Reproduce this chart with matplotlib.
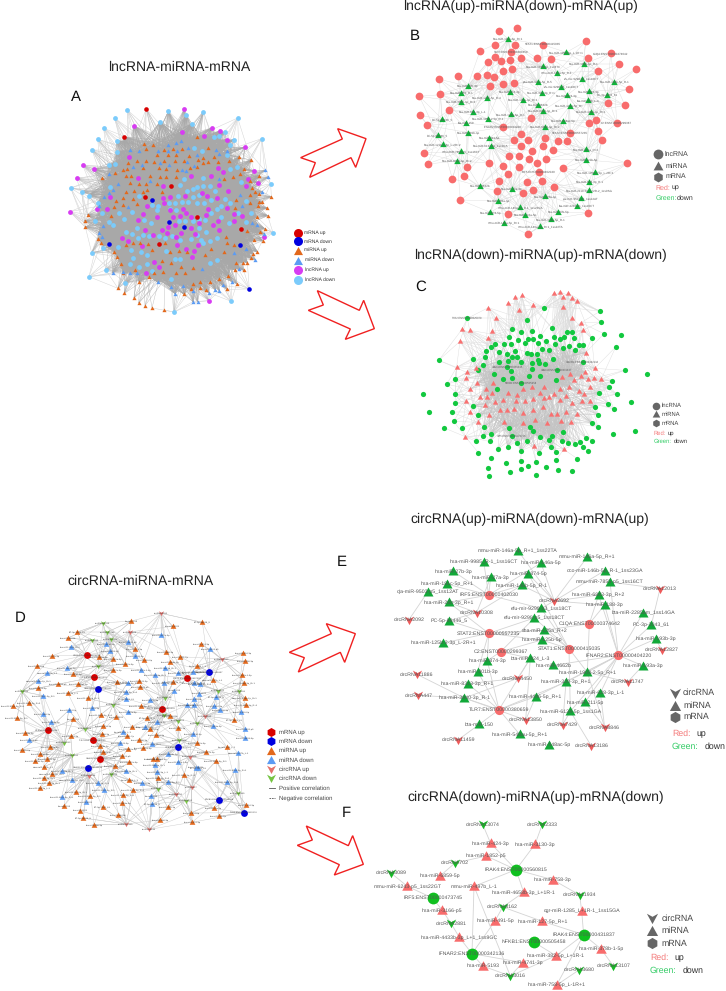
import numpy as np
import matplotlib
matplotlib.use("Agg")
import matplotlib.pyplot as plt
from matplotlib.collections import LineCollection
from matplotlib.path import Path
from matplotlib.patches import Polygon

plt.rcParams['font.family'] = ['Liberation Sans', 'DejaVu Sans']
plt.rcParams['text.hinting'] = 'none'
W, H = 726, 991

# ---------- Panel A nodes ----------
A_lnc_down = [(202,90),(325,94),(430,95),(379,106),(533,114),(164,115),(300,126),(396,131),(131,145),(496,155),(605,176),(521,179),(113,178),(171,182),(461,170),(478,168),(96,210),(510,195),(171,216),(425,212),(403,203),(147,255),(165,253),(502,224),(632,311),(32,324),(66,336),(86,347),(114,368),(149,322),(639,458),(95,518),(128,505),(137,569),(87,590),(196,608),(514,664),(342,696),(530,262),(511,268),(372,296),(430,294),(542,305),(557,362),(574,398),(535,400),(559,425),(359,315),(380,333),(398,327),(412,320),(429,318),(449,319),(466,334),(355,348),(399,351),(416,344),(494,356),(452,360),(511,368),(483,377),(470,386),(431,370),(412,369),(385,366),(367,366),(346,368),(328,368),(238,349),(275,375),(295,378),(291,390),(329,388),(347,390),(454,400),(483,410),(435,420),(418,418),(398,423),(375,422),(358,424),(506,428),(253,421),(273,428),(231,445),(217,463),(197,456),(178,400),(215,395),(191,416),(160,436),(148,425),(127,398),(105,424),(233,473),(248,466),(267,468),(296,469),(316,473),(336,467),(360,480),(392,477),(410,465),(424,480),(430,490),(450,482),(471,475),(439,455),(416,445),(175,500),(212,510),(243,516),(262,526),(218,535),(211,552),(260,552),(238,560),(275,573),(318,513),(346,537),(360,536),(449,548),(470,540),(334,597)]
A_lnc_up = [(373,87),(222,138),(366,155),(457,143),(480,153),(431,167),(501,179),(555,202),(207,231),(68,256),(102,267),(50,295),(474,264),(489,277),(582,273),(563,296),(593,309),(558,318),(234,293),(394,288),(453,288),(310,318),(477,316),(505,334),(330,351),(375,348),(426,339),(441,347),(470,354),(310,355),(311,370),(260,377),(150,352),(110,387),(140,386),(30,395),(330,389),(369,387),(378,398),(500,384),(444,386),(522,402),(546,407),(522,424),(248,403),(290,410),(339,411),(360,407),(394,412),(438,405),(233,419),(345,435),(473,422),(458,436),(476,449),(256,449),(305,450),(323,442),(417,430),(392,443),(280,464),(322,460),(363,459),(404,461),(349,471),(185,473),(203,483),(245,497),(350,495),(415,496),(379,507),(402,513),(397,531),(281,545),(296,562),(257,578),(612,470),(447,662)]
A_mrna_up = [(259,86),(192,171),(334,317),(256,352),(410,411),(543,446),(297,492)]
A_mrna_down = [(276,360),(328,425),(372,441),(147,491),(541,495),(568,627)]
A_mir_up = [(253,192),(280,195),(410,170),(259,208),(311,209),(340,206),(366,207),(443,204),(292,225),(324,225),(349,225),(388,228),(230,242),(203,249),(258,243),(282,245),(312,243),(344,244),(372,244),(414,240),(430,234),(463,231),(537,231),(573,240),(506,242),(201,266),(165,279),(125,295),(190,270),(250,265),(298,265),(318,267),(350,270),(389,264),(430,250),(445,247),(411,262),(473,247),(551,267),(540,283),(519,290),(492,296),(598,287),(197,287),(213,288),(270,288),(300,292),(319,290),(348,292),(209,310),(236,312),(257,312),(290,312),(575,323),(570,304),(197,337),(222,333),(250,335),(261,330),(307,336),(188,355),(218,358),(584,335),(597,343),(634,350),(570,345),(527,360),(570,370),(597,366),(188,375),(232,372),(168,364),(163,382),(607,367),(620,384),(594,378),(526,385),(83,404),(152,407),(623,407),(590,410),(74,422),(76,441),(560,452),(614,446),(600,455),(498,470),(582,480),(608,482),(113,478),(123,489),(500,489),(522,494),(163,517),(170,530),(592,515),(580,521),(572,533),(548,548),(562,548),(528,548),(183,551),(241,490),(219,490),(265,492),(314,488),(358,513),(382,516),(436,524),(454,508),(491,515),(197,495),(275,510),(330,517),(525,570),(551,571),(225,570),(190,580),(174,625),(193,640),(222,654),(236,669),(255,677),(276,684),(312,690),(238,605),(268,591),(282,580),(308,577),(348,578),(375,579),(398,563),(332,548),(305,542),(362,560),(504,587),(478,596),(450,606),(420,605),(400,612),(373,643),(394,628),(420,623),(437,630),(530,611),(501,628)]
A_mir_down = [(362,183),(347,188),(323,196),(384,203),(210,211),(238,213),(295,212),(325,212),(468,210),(352,212),(412,226),(476,223),(500,212),(247,255),(218,262),(328,256),(300,250),(380,247),(402,257),(366,270),(378,274),(146,281),(614,271),(624,291),(605,335),(478,297),(270,302),(175,311),(160,330),(146,340),(133,352),(540,346),(205,382),(545,379),(118,378),(128,437),(116,458),(125,470),(592,436),(577,430),(612,461),(586,539),(158,578),(188,576),(210,580),(230,578),(536,568),(516,605),(488,616),(478,632),(466,629),(446,638),(400,632),(345,641),(332,620),(370,617),(293,607),(426,566),(413,665),(399,665),(558,508),(522,520)]

# ---------- Panel B ----------
B_other = [(380,85),(326,92),(587,124),(316,135),(375,135),(270,153),(595,173),(687,192),(737,208),(293,187),(314,172),(334,183),(361,180),(393,174),(440,175),(484,176),(624,213),(338,212),(366,207),(204,229),(261,228),(290,225),(313,232),(148,238),(338,253),(371,250),(300,257),(716,267),(88,289),(150,282),(705,316),(655,310),(178,329),(89,346),(422,355),(618,359),(111,376),(596,369),(625,394),(636,420),(394,403),(371,421),(415,420),(465,414),(393,437),(459,437),(427,452),(504,424),(531,422),(490,450),(101,459),(113,492),(358,469),(387,468),(418,476),(467,478),(440,489),(297,489),(339,497),(386,500),(232,500),(221,527),(187,536),(354,522),(518,505),(712,490),(326,543),(411,546),(456,543),(493,560),(322,573),(399,578),(428,571),(211,600),(354,643),(595,639),(414,703)]
B_mrna = [(458,134),(364,157),(662,160),(339,381),(680,369),(541,400),(447,516)]
B_mrna_labels = ["STAT1:ENST00000415035","TLR7:ENST00000380659","C1QA:ENST00000374642","IFNAR2:ENST00000404220","C2:ENST00000299367","STAT2:ENST00000557235","IRF5:ENST00000402030"]
B_mir = [(355,117),(529,157),(581,192),(459,199),(500,219),(575,237),(444,245),(673,245),(233,258),(513,261),(359,276),(455,278),(214,279),(597,274),(531,286),(651,285),(290,294),(213,306),(399,299),(593,301),(443,315),(539,318),(248,335),(362,343),(460,333),(604,335),(293,357),(157,358),(518,362),(228,369),(466,381),(235,398),(143,406),(298,414),(158,433),(303,438),(213,454),(202,483),(589,448),(589,480),(616,517),(598,545),(598,571),(269,559),(366,566),(466,589),(572,595),(325,603),(561,618),(391,622),(301,637),(406,645),(505,636),(483,658),(343,669),(451,679)]
B_mir_labels = ["hsa-miR-181c-5p_R+1","hsa-miR-1908-5p_L-1R+1","hsa-miR-193b-3p_R-1","hsa-miR-106b-5p_1ss8TC","mmu-miR-146a-5p_R-1","efu-mir-9298-p3_1ss18CT","pza-miR-125a-5p_R-5","hsa-miR-146b-5p_R-1","hsa-miR-27b-3p","efu-mir-9298-p5_1ss18CT","hsa-miR-874-3p","hsa-miR-320-3p_R+1","hsa-miR-150_R-1","hsa-miR-188-3p","hsa-miR-874-3p","PC-3p-2043_61","hsa-miR-125b-5p_R-4","hsa-miR-3940-3p_R+1","hsa-miR-193a-3p_R+1","bta-miR-424_L-3","hsa-miR-4662b","hsa-miR-146a-5p_R+","hsa-miR-628-3p_L-1","hsa-miR-125b-5p_R-1","hsa-miR-8313-3p_R+1","hsa-miR-193a-3p_R+1","hsa-miR-1908-2-5p_R-1","PC-5p-89446_5","hsa-miR-548ac-5p","bta-miR-150","hsa-miR-6883-3p_R+2","hsa-miR-301b-3p","PC-5p-89446_5","hsa-miR-211-5p","hsa-miR-125b-2-3p_L-2R+2","hsa-miR-6134-5p_1ss1GA","mmu-miR-7855-p5_1ss16CT","hsa-miR-8313-3p_R+2","sha-miR-125a_R+2","hsa-miR-125b-5p","hsa-miR-1908-2-5p_L-2R+1","hsa-miR-628-3p_R-1","hsa-miR-2110-5p_L+2R-2_1ss9AG","hsa-miR-4662b","hsa-miR-27a-3p","hsa-miR-193a-3p","oja-miR-9503-p5_1ss12AT","hsa-miR-193a-3p","bta-miR-2285am_1ss16CT","mmu-miR-146a-5p_R-1_1ss23GA","hsa-miR-874-5p","hsa-miR-146a-5p","hsa-miR-27b-5p","hsa-miR-146a-5p_R-1","mmu-miR-146a-5p_R+1","mmu-miR-146a-5p_R+1_1ss22TA"]

# ---------- Panel C ----------
C_mir = [(375,170),(395,166),(354,189),(295,203),(492,160),(510,155),(518,170),(535,160),(545,173),(560,183),(429,196),(388,211),(520,200),(317,235),(547,234),(573,248),(216,268),(239,271),(306,273),(578,271),(295,294),(210,304),(587,338),(200,382),(258,384),(614,385),(230,397),(228,415),(516,410),(540,402),(572,408),(585,397),(594,416),(612,415),(634,417),(552,420),(260,430),(308,428),(288,448),(240,447),(425,442),(400,447),(462,441),(510,447),(537,440),(566,452),(600,440),(582,463),(270,470),(290,470),(306,458),(450,458),(492,463),(477,470),(355,458),(380,465),(340,480),(316,485),(228,482),(286,495),(378,483),(406,483),(430,477),(462,475),(510,480),(527,467),(546,490),(575,483),(600,484),(240,517),(298,525),(330,510),(351,510),(372,507),(400,520),(430,510),(458,500),(482,521),(502,521),(528,515),(561,523),(264,547),(342,547),(398,548),(436,540),(470,548),(512,543),(544,547),(226,590),(431,617),(521,628)]
C_other = [(463,204),(630,214),(411,241),(632,246),(486,264),(365,267),(394,277),(426,274),(547,277),(642,281),(694,285),(358,291),(451,289),(493,291),(521,292),(509,297),(551,294),(531,275),(605,295),(384,300),(415,297),(428,296),(315,311),(302,320),(343,313),(362,312),(404,308),(445,310),(468,304),(495,312),(567,314),(580,316),(288,332),(327,337),(375,332),(520,323),(538,318),(456,326),(476,330),(677,321),(286,352),(351,342),(381,351),(366,352),(410,338),(424,342),(440,341),(554,331),(146,361),(250,357),(326,365),(354,363),(394,365),(445,360),(490,358),(278,376),(427,370),(447,370),(464,371),(426,388),(265,391),(312,401),(704,391),(772,401),(363,393),(418,408),(450,407),(338,417),(365,414),(498,421),(195,418),(170,433),(667,424),(320,448),(628,458),(98,462),(195,462),(656,441),(680,462),(724,487),(195,490),(250,497),(654,491),(615,500),(672,507),(117,516),(186,517),(263,524),(625,524),(191,544),(605,549),(625,562),(163,564),(217,564),(281,561),(356,563),(419,561),(430,573),(520,577),(668,583),(734,573),(279,587),(450,592),(487,587),(303,583),(380,608),(258,604),(299,604),(412,603),(478,600),(517,604),(535,608),(570,606),(587,593),(605,604),(555,612),(580,620),(593,634),(265,638),(323,628),(353,620),(392,632),(483,622),(497,636),(447,640),(303,655),(392,664),(562,656),(347,668),(438,665),(498,661),(415,678),(293,683),(394,686),(361,695),(469,682),(505,690),(545,694),(439,704),(297,708)]
C_mrna = [(232,235),(351,382),(500,390),(578,367),(394,430),(365,588)]
C_mrna_labels = ["TYR2:ENST00000525070","IRAK4:ENST00000560815","IRAK4:ENST00000431837","IFNAR2:ENST00000342136","NFKB1:ENST00000505458","IRF5:ENST00000473745"]

# ---------- Panel D ----------
D_mrna_up = [(260,165),(283,231),(562,234),(485,326),(143,391),(278,421),(301,476)]
D_mrna_down = [(628,216),(294,266),(533,442),(264,503),(657,599),(731,638)]
D_circ_up = [(483,40),(389,96),(665,177),(616,348),(569,470),(266,527),(575,562),(528,582),(378,672),(448,688)]
D_circ_down = [(309,69),(322,96),(332,117),(277,121),(295,198),(66,274),(495,293),(655,272),(716,273),(340,314),(493,345),(534,362),(590,370),(255,386),(192,428),(217,466),(538,420),(333,522),(473,566),(558,602),(713,579)]
D_mir_up = [(394,63),(518,79),(607,67),(232,96),(203,114),(155,168),(110,198),(404,147),(497,155),(604,131),(540,170),(730,160),(735,184),(432,181),(340,176),(510,186),(375,193),(592,197),(297,172),(340,209),(220,221),(173,253),(115,264),(420,260),(416,243),(352,246),(235,253),(638,240),(727,226),(733,248),(520,246),(204,280),(264,295),(734,293),(738,315),(423,318),(87,310),(40,319),(51,355),(302,344),(220,358),(348,351),(441,355),(703,359),(510,349),(533,384),(396,380),(310,379),(305,403),(212,409),(380,409),(469,404),(417,421),(66,449),(150,441),(300,437),(592,430),(680,440),(76,399),(617,456),(120,463),(308,455),(430,443),(365,467),(140,477),(344,497),(105,482),(131,500),(470,477),(132,534),(148,548),(120,563),(228,575),(155,523),(552,524),(648,483),(474,535),(400,569),(270,588),(368,586),(192,618),(240,632),(250,654),(308,622),(355,645),(503,622),(573,639),(641,625),(480,660),(576,667),(656,649),(738,615),(282,675),(450,388),(383,447),(458,477),(388,487),(388,540),(365,610)]
D_mir_down = [(484,105),(319,133),(385,125),(330,153),(629,147),(404,167),(212,141),(200,205),(142,219),(423,209),(495,205),(465,226),(535,218),(580,216),(115,242),(492,248),(383,248),(601,252),(582,250),(130,287),(378,276),(522,272),(598,281),(649,292),(378,296),(581,298),(451,300),(206,331),(275,325),(128,341),(560,316),(582,316),(642,318),(660,330),(723,335),(385,335),(153,367),(470,367),(368,395),(640,377),(436,382),(578,403),(735,388),(735,415),(87,420),(360,429),(455,431),(505,463),(715,460),(535,485),(464,495),(379,513),(472,515),(187,512),(216,540),(295,548),(505,545),(682,546),(706,510),(311,570),(185,590),(454,588),(257,606),(457,612),(595,503),(587,503),(427,550)]
D_mrna_labels = ["C1QA:ENST00000374642","IRF5:ENST00000402030","STAT2:ENST00000557235","STAT1:ENST00000415035","C2:ENST00000299367","TLR7:ENST00000380659","IFNAR2:ENST00000404220","IRAK4:ENST00000431837","IRAK4:ENST00000560815","IRF5:ENST00000473745","IFNAR2:ENST00000342136","NFKB1:ENST00000505458","TYR2:ENST00000525070"]
D_circ_labels = ["circRNA2092","circRNA7429","circRNA12013","circRNA2692","circRNA10308","circRNA11886","circRNA447","circRNA4450","circRNA13850","circRNA8846","circRNA11459","circRNA13186","circRNA13074","circRNA2333","circRNA702","circRNA3089","circRNA11934","circRNA8162","circRNA2881","circRNA13107","circRNA3680","circRNA3016"]

# ---------- Panel E ----------
E_mir = [(354,122),(562,141),(251,155),(423,159),(160,184),(385,192),(272,202),(614,182),(140,222),(365,226),(630,216),(83,246),(596,255),(146,277),(614,285),(423,295),(729,309),(403,324),(146,332),(754,345),(433,361),(767,387),(425,390),(129,399),(391,445),(262,452),(460,466),(728,467),(233,485),(562,487),(203,521),(498,516),(601,549),(193,564),(407,560),(555,577),(511,604),(238,643),(359,673),(448,705)]
E_mir_labels = ["mmu-miR-146a-5p_R+1_1ss22TA","mmu-miR-146a-5p_R+1","hsa-miR-9985_R-1_1ss16CT","hsa-miR-146a-5p","hsa-miR-27b-3p","hsa-miR-874-5p","hsa-miR-27a-3p","oco-miR-146b-5p_R-1_1ss23GA","hsa-miR-181c-5p_R+1","hsa-miR-146b-5p_R-1","mmu-miR-7855-p5_1ss16CT","oja-miR-9503-p5_1ss12AT","hsa-miR-6883-3p_R+2","hsa-miR-28b-3p_R+1","hsa-miR-188-3p","efu-mir-9298-p3_1ss18CT","bta-miR-2285am_1ss14GA","efu-mir-9298-p5_1ss18CT","PC-5p-89446_5","PC-3p-2043_61","sha-miR-125a_R+2","hsa-miR-193b-3p","hsa-miR-125b-5p","hsa-miR-125b-2-3p_L-2R+1","bta-miR-424_L-3","hsa-miR-874-3p","hsa-miR-4662b","hsa-miR-193a-3p","hsa-miR-301b-3p","hsa-miR-1908-2-5p_R+1","hsa-miR-8313-3p_R+1","hsa-miR-320-3p_R+1","hsa-miR-628-3p_L-1","hsa-miR-3940-3p_R-1","hsa-miR-4446-5p_R+1","hsa-miR-211-5p","hsa-miR-6134-5p_1ss1GA","bta-miR-150","hsa-miR-548au-5p_R+1","hsa-miR-548ac-5p"]
E_circ = [(780,236),(463,273),(230,308),(27,329),(785,419),(353,505),(683,516),(51,493),(55,556),(377,630),(488,644),(614,652),(175,689),(574,708)]
E_circ_labels = ["circRNA12013","circRNA2692","circRNA10308","circRNA2092","circRNA12827","circRNA4450","circRNA11747","circRNA11886","circRNA447","circRNA13850","circRNA7429","circRNA8846","circRNA11459","circRNA13186"]
E_mrna = [(266,255),(266,370),(302,425),(568,341),(507,416),(655,436),(297,599)]
E_mrna_labels = ["IRF5:ENST00000402030","STAT2:ENST00000557235","C2:ENST00000299367","C1QA:ENST00000374642","STAT1:ENST00000415035","IFNAR2:ENST00000404220","TLR7:ENST00000380659"]
E_mrna_links = [[2,4,6,8,13,9,3,15],[13,18,23,17,20,22,25,28],[22,25,17,24],[14,12,20,29],[15,17,22,20,29,36,5],[10,12,14,16,19,21,27,29,31,32,35,36,34,26],[28,30,33,37,38,34,31,24,25]]
E_circ_links = [[10,19],[1,3,5,7,9,0,15,14,12],[13,6,18,9],[11],[21],[24,30,33],[27,29],[33],[33],[34,24,33],[36,31],[32,35,29],[37],[36]]

# ---------- Panel F ----------
F_mir = [(272,190),(405,193),(259,228),(121,287),(458,299),(22,319),(222,319),(371,337),(127,391),(545,393),(285,423),(427,424),(178,472),(603,507),(468,527),(368,548),(248,558),(470,615)]
F_mir_labels = ["hsa-miR-424-3p","hsa-miR-3130-3p","hsa-miR-1852-p5","hsa-miR-6859-5p","hsa-miR-758-3p","mmu-miR-6243-p5_1ss22GT","mmu-miR-497b_L-1","hsa-miR-4658b-3p_L+1R-1","hsa-miR-3166-p5","cgr-miR-1285_L+1R-1_1ss15GA","hsa-miR-491-5p","hsa-miR-127-5p_R+1","hsa-miR-4433b-3p_L+1_1ss9GC","hsa-miR-378b-1-5p","hsa-miR-382-5p_L+1R-1","hsa-miR-4741-3p","hsa-miR-5193","hsa-miR-758-5p_L-1R+1"]
F_circ = [(248,133),(427,133),(165,249),(-27,279),(539,345),(308,381),(153,430),(640,558),(537,570),(331,588)]
F_circ_labels = ["circRNA13074","circRNA2333","circRNA702","circRNA3089","circRNA11934","circRNA8162","circRNA2881","circRNA13107","circRNA3680","circRNA3016"]
F_mrna = [(348,269),(98,354),(551,464),(401,486),(216,521)]
F_mrna_labels = ["IRAK4:ENST00000560815","IRF5:ENST00000473745","IRAK4:ENST00000431837","NFKB1:ENST00000505458","IFNAR2:ENST00000342136"]
F_mrna_links = [[0,1,2,4,6,7],[5,8],[9,11,13,14,17],[14],[10,6,12,16,15]]
F_circ_links = [[0],[1],[3,2],[5],[4,9],[7,11,10],[8,12],[13],[17],[6,16,15,14]]

# ---------- Titles, letters, arrows ----------
titles = [("lncRNA-miRNA-mRNA",179,67),("lncRNA(up)-miRNA(down)-mRNA(up)",520.5,6),("lncRNA(down)-miRNA(up)-mRNA(down)",540,255),("circRNA-miRNA-mRNA",140,581),("circRNA(up)-miRNA(down)-mRNA(up)",530,519),("circRNA(down)-miRNA(up)-mRNA(down)",535.5,797)]
letters = [("A",76,97),("B",415,36),("C",421,287),("D",20,618),("E",342,562),("F",346,813)]
arrow_up_a = [(32,143),(76,158),(59,202),(183,143),(197,172),(228,86),(143,56),(157,87)]
arrow_dn_a = [(55,601),(100,585),(82,542),(208,601),(221,571),(253,656),(166,688),(181,657)]
arrow_up_d = [(28,127),(73,143),(55,186),(181,127),(194,157),(226,71),(139,41),(154,71)]
arrow_dn_d = [(52,706),(97,690),(79,648),(205,707),(218,677),(250,763),(163,795),(178,764)]

V = Path([(-1,0.85),(0,0.3),(1,0.85),(0,-1),(-1,0.85)], closed=True)
TRI = Path([(0,1),(-1,-0.8),(1,-0.8),(0,1)], closed=True)
GREY = '#555555'

fig = plt.figure(figsize=(W/100, H/100), dpi=100, facecolor='white')

def panel(x, y, w, h):
    ax = fig.add_axes([x/W, 1-(y+h)/H, w/W, h/H])
    ax.set_xlim(0, w*3); ax.set_ylim(h*3, 0); ax.axis('off')
    ax.patch.set_alpha(0)
    return ax

def pts(ax, p, marker, color, s, z=3, **kw):
    p = np.array(p, float)
    ax.scatter(p[:,0], p[:,1], marker=marker, c=color, s=s, linewidths=0, zorder=z, clip_on=False, **kw)

def radius_edges(a, b, r, k=0):
    a, b = np.array(a, float), np.array(b, float)
    d = np.hypot(a[:,None,0]-b[None,:,0], a[:,None,1]-b[None,:,1])
    segs = []
    for i in range(len(a)):
        order = np.argsort(d[i])
        for n, j in enumerate(order):
            if d[i,j] < r or n < k:
                segs.append([a[i], b[j]])
    return segs

def near_centre(segs, cx, cy, r):
    return [s for s in segs if np.hypot((s[0][0]+s[1][0])/2-cx, (s[0][1]+s[1][1])/2-cy) < r]

def edges(ax, segs, color, lw, alpha=1.0):
    ax.add_collection(LineCollection(segs, colors=color, linewidths=lw, alpha=alpha, zorder=1, clip_on=False))

def labels(ax, p, names, size, color=GREY):
    for (x, y), t in zip(p, names):
        ax.text(x, y, t, fontsize=size, color=color, ha='center', va='center', zorder=5, clip_on=False)

def linked(src, dst, links):
    return [[src[i], dst[j]] for i, l in enumerate(links) for j in l]

def legend(ax, rows, colors, size, s, tx, texts):
    for (mk, x, y), c in zip(rows, colors):
        ax.scatter([x], [y], marker=mk, c=c, s=s, linewidths=0, zorder=4, clip_on=False)
    for t, x, y in texts:
        ax.text(x, y, t, fontsize=size, color=tx, ha='left', va='center', clip_on=False)

def redgreen(ax, size, xr, xu, yr, xg, xd, yg):
    ax.text(xr, yr, "Red:", color='#f47a7a', fontsize=size, va='center')
    ax.text(xu, yr, "up", color='#333333', fontsize=size, va='center')
    ax.text(xg, yg, "Green:", color='#33cc66', fontsize=size, va='center')
    ax.text(xd, yg, "down", color='#333333', fontsize=size, va='center')

# ---- A
a = panel(60, 80, 300, 290)
others = A_lnc_down + A_lnc_up + A_mrna_up + A_mrna_down
mirs = A_mir_up + A_mir_down
edges(a, radius_edges(others, mirs, 0, 9), '#d4d4d4', 0.35)
edges(a, near_centre(radius_edges(mirs, others, 190), 345, 385, 225), '#a8a8a8', 0.3, 0.8)
pts(a, A_lnc_down, 'o', '#7bcbfb', 12)
pts(a, A_lnc_up, 'o', '#d73cf2', 12)
pts(a, A_mrna_up, 'o', '#d80000', 11)
pts(a, A_mrna_down, 'o', '#0000e0', 11)
pts(a, A_mir_up, TRI, '#e2681c', 9)
pts(a, A_mir_down, TRI, '#5b9bf3', 9)
legend(a, [('o',714,458),('o',714,484),(TRI,714,514),(TRI,714,544),('o',714,570),('o',714,600)],
       ['#d80000','#0000e0','#e2681c','#5b9bf3','#d73cf2','#7bcbfb'], 3.6, 42, '#333333',
       [("mRNA up",733,458),("mRNA down",733,484),("miRNA up",733,510),("miRNA down",735,540),("lncRNA up",735,570),("lncRNA down",735,598)])

# ---- B
b = panel(390, 0, 336, 240)
others = B_other + B_mrna
edges(b, radius_edges(B_mir, others, 130, 6), '#dcdcdc', 0.3)
pts(b, others, 'o', '#f86c6c', 31)
pts(b, B_mir, TRI, '#0fb33a', 22)
labels(b, B_mir, B_mir_labels, 2.2)
labels(b, B_mrna, B_mrna_labels, 2.2)
legend(b, [('o',804,463),(TRI,804,498),('h',804,530)], ['#666666']*3, 5.0, 50, '#444444',
       [("lncRNA",824,463),("miRNA",826,498),("mRNA",826,528)])
redgreen(b, 5.0, 797, 846, 564, 796, 860, 593)

# ---- C
c = panel(390, 240, 336, 240)
others = C_other + C_mrna
edges(c, radius_edges(C_mir, others, 0, 10), '#dcdcdc', 0.3)
edges(c, near_centre(radius_edges(C_mir, others, 150), 430, 450, 150), '#c4c4c4', 0.28, 0.8)
pts(c, others, 'o', '#12c83f', 14)
pts(c, C_mir, TRI, '#f87070', 15)
labels(c, C_mrna, C_mrna_labels, 1.9)
legend(c, [('o',797,497),(TRI,797,523),('h',797,550)], ['#666666']*3, 4.2, 30, '#444444',
       [("lncRNA",816,497),("miRNA",816,523),("mRNA",816,550)])
redgreen(c, 4.2, 792, 833, 581, 792, 850, 604)

# ---- D
d = panel(0, 600, 340, 260)
others = D_mrna_up + D_mrna_down + D_circ_up + D_circ_down
mirs = D_mir_up + D_mir_down
edges(d, radius_edges(others, mirs, 0, 11), '#cccccc', 0.33)
edges(d, radius_edges(mirs, others, 0, 3), '#cccccc', 0.33)
pts(d, D_mrna_up, 'o', '#d80000', 24)
pts(d, D_mrna_down, 'o', '#0000e0', 24)
pts(d, D_circ_up, V, '#e4706a', 14)
pts(d, D_circ_down, V, '#76c442', 14)
pts(d, D_mir_up, TRI, '#e2681c', 17)
pts(d, D_mir_down, TRI, '#5b9bf3', 17)
names = sorted(E_mir_labels + F_mir_labels, key=len)[:40]
labels(d, mirs, [names[i % len(names)] for i in range(len(mirs))], 1.75, '#333333')
labels(d, D_mrna_up + D_mrna_down, D_mrna_labels, 1.75, '#333333')
labels(d, D_circ_up + D_circ_down, [D_circ_labels[i % len(D_circ_labels)] for i in range(31)], 1.75, '#333333')
legend(d, [('h',814,396),('h',814,424),(TRI,814,452),(TRI,814,481),(V,814,508),(V,814,535)],
       ['#d80000','#0000e0','#e2681c','#5b9bf3','#e4706a','#76c442'], 4.3, 42, '#444444',
       [("mRNA up",837,396),("mRNA down",837,424),("miRNA up",837,451),("miRNA down",837,481),("circRNA up",837,507),("circRNA down",837,534),("Positive correlation",837,565),("Negative correlation",837,594)])
d.plot([807,826],[564,564], color='#555555', lw=0.6, clip_on=False)
d.plot([807,826],[594,594], color='#555555', lw=0.6, ls=(0,(2,1)), clip_on=False)

# ---- E
e = panel(400, 510, 326, 260)
edges(e, linked(E_mrna, E_mir, E_mrna_links) + linked(E_circ, E_mir, E_circ_links), '#d4d4d4', 0.6)
pts(e, E_mrna, 'o', '#f86c6c', 44)
pts(e, E_mir, TRI, '#11a838', 52)
pts(e, E_circ, V, '#ee5a5a', 44)
labels(e, E_mir, E_mir_labels, 3.75)
labels(e, E_circ, E_circ_labels, 3.75)
labels(e, E_mrna, E_mrna_labels, 3.75)
legend(e, [(V,824,549),(TRI,824,587),('h',824,621)], ['#666666']*3, 6.3, 65, '#444444',
       [("circRNA",849,549),("miRNA",851,586),("mRNA",851,621)])
redgreen(e, 6.3, 816, 889, 671, 816, 915, 710)

# ---- F
f = panel(400, 780, 326, 211)
edges(f, linked(F_mrna, F_mir, F_mrna_links) + linked(F_circ, F_mir, F_circ_links), '#d4d4d4', 0.6)
pts(f, F_mrna, 'o', '#0fc01f', 72)
pts(f, F_mir, TRI, '#f86c6c', 58)
pts(f, F_circ, V, '#15bb25', 46)
labels(f, F_mir, F_mir_labels, 3.75)
labels(f, F_circ, F_circ_labels, 3.75)
labels(f, F_mrna, F_mrna_labels, 3.75)
legend(f, [(V,756,415),(TRI,756,452),('h',756,490)], ['#666666']*3, 6.3, 65, '#444444',
       [("circRNA",784,415),("miRNA",784,452),("mRNA",784,490)])
redgreen(f, 6.3, 751, 822, 534, 749, 847, 572)

# ---- page level
top = panel(0, 0, W, H)
top.set_xlim(0, W); top.set_ylim(H, 0)
for t, x, y in titles:
    top.text(x, y, t, fontsize=10.1, ha='center', va='center', color='#222222')
for t, x, y in letters:
    top.text(x, y, t, fontsize=10.8, ha='center', va='center', color='#111111')
for arr, ox, oy in [(arrow_up_a,290,110),(arrow_dn_a,290,110),(arrow_up_d,280,610),(arrow_dn_d,280,610)]:
    q = np.array(arr, float)/3 + [ox, oy]
    top.add_patch(Polygon(q, closed=True, fill=False, edgecolor='#f02020', lw=1.0, joinstyle='miter'))

fig.savefig('out.png', dpi=100, facecolor='white')
